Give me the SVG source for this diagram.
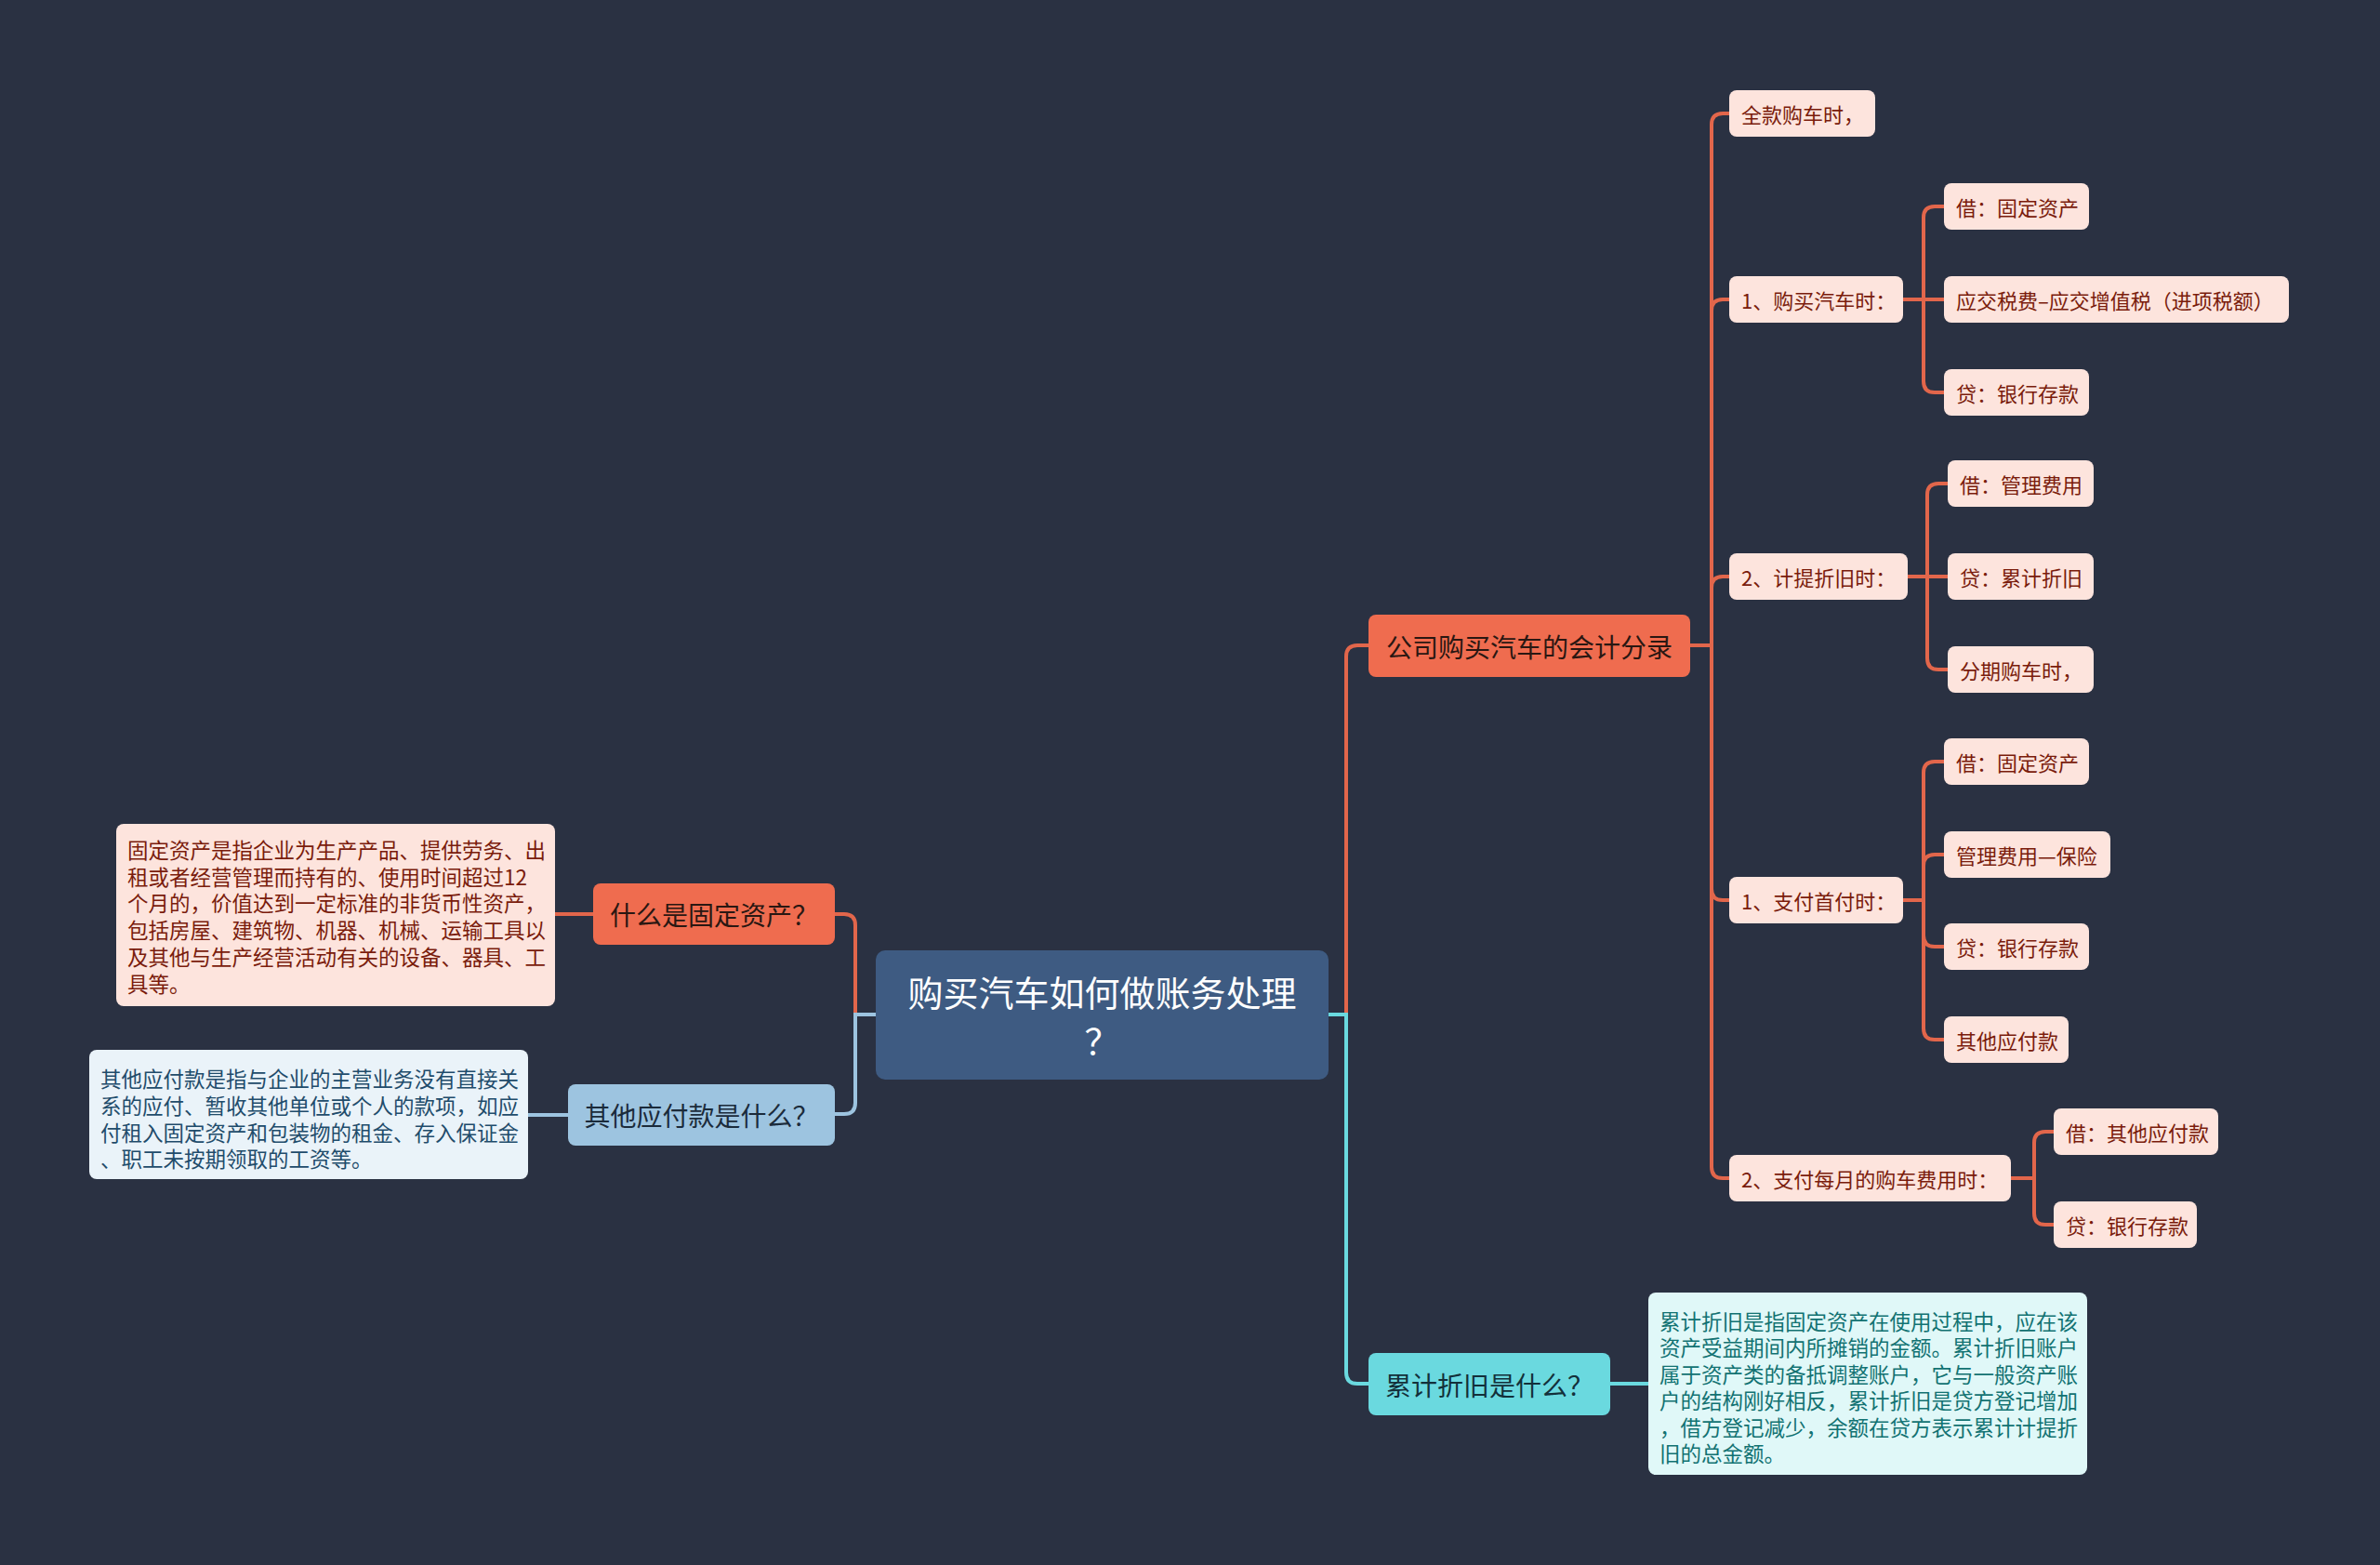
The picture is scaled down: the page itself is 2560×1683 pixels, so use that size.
<svg xmlns="http://www.w3.org/2000/svg" width="2560" height="1683" viewBox="0 0 2560 1683">
<style>
text{font-family:"Noto Sans CJK SC","Noto Sans",sans-serif}
.c-or{fill:none;stroke:#e2664b;stroke-width:4}
.c-cy{fill:none;stroke:#6ad9df;stroke-width:4}
.c-lb{fill:none;stroke:#9dc4e0;stroke-width:4}
.root{fill:#3e5b82}
.root-t{fill:#ffffff;font-size:38px}
.or{fill:#ef6c4f}
.cy{fill:#6ad9df}
.lb{fill:#9dc4e0}
.l2t{fill:#2a1712;font-size:28px}
.l2c{fill:#13303a;font-size:28px}
.l2b{fill:#1b2b3b;font-size:28px}
.pk{fill:#fde4dd}
.pkt{fill:#7a1c0c;font-size:22px}
.dt{font-size:22.5px}
.d4{fill:#eaf3f9}
.d4t{fill:#1f4c6b}
.d2{fill:#e0f8f8}
.d2t{fill:#127272}
</style>
<rect width="2560" height="1683" fill="#2a3142"/>

<g id="connectors">
  <path class="c-or" d="M1429 1091 H1448 V706 Q1448 694 1460 694 H1472"/>
  <path class="c-cy" d="M1429 1091 H1448 V1476 Q1448 1488 1460 1488 H1472"/>
  <path class="c-or" d="M942 1091 H920 V995 Q920 983 908 983 H898"/>
  <path class="c-lb" d="M942 1091 H920 V1186 Q920 1198 908 1198 H898"/>
  <path class="c-or" d="M638 983 H597"/>
  <path class="c-lb" d="M611 1199 H568"/>
  <path class="c-cy" d="M1732 1488 H1773"/>

  <path class="c-or" d="M1818 694 H1841 V134 Q1841 122 1853 122 H1860"/>
  <path class="c-or" d="M1818 694 H1841 V334 Q1841 322 1853 322 H1860"/>
  <path class="c-or" d="M1818 694 H1841 V632 Q1841 620 1853 620 H1860"/>
  <path class="c-or" d="M1818 694 H1841 V956 Q1841 968 1853 968 H1860"/>
  <path class="c-or" d="M1818 694 H1841 V1255 Q1841 1267 1853 1267 H1860"/>

  <path class="c-or" d="M2047 322 H2069 V234 Q2069 222 2081 222 H2091"/>
  <path class="c-or" d="M2047 322 H2091"/>
  <path class="c-or" d="M2047 322 H2069 V410 Q2069 422 2081 422 H2091"/>

  <path class="c-or" d="M2052 620 H2073 V532 Q2073 520 2085 520 H2095"/>
  <path class="c-or" d="M2052 620 H2095"/>
  <path class="c-or" d="M2052 620 H2073 V708 Q2073 720 2085 720 H2095"/>

  <path class="c-or" d="M2047 968 H2069 V831 Q2069 819 2081 819 H2091"/>
  <path class="c-or" d="M2047 968 H2069 V931 Q2069 919 2081 919 H2091"/>
  <path class="c-or" d="M2047 968 H2069 V1006 Q2069 1018 2081 1018 H2091"/>
  <path class="c-or" d="M2047 968 H2069 V1106 Q2069 1118 2081 1118 H2091"/>

  <path class="c-or" d="M2163 1267 H2188 V1229 Q2188 1217 2200 1217 H2209"/>
  <path class="c-or" d="M2163 1267 H2188 V1305 Q2188 1317 2200 1317 H2209"/>
</g>

<g id="root">
  <rect class="root" x="942" y="1022" width="487" height="139" rx="10"/>
  <text class="root-t" x="1185.5" y="1065" text-anchor="middle" dominant-baseline="central">购买汽车如何做账务处理</text>
  <text class="root-t" x="1185.5" y="1117" text-anchor="middle" dominant-baseline="central">？</text>
</g>

<g id="n1">
  <rect class="or" x="1472" y="661" width="346" height="67" rx="8"/>
  <text class="l2t" x="1645" y="694.5" text-anchor="middle" dominant-baseline="central">公司购买汽车的会计分录</text>
</g>
<g id="n2">
  <rect class="cy" x="1472" y="1455" width="260" height="67" rx="8"/>
  <text class="l2c" x="1602" y="1488.5" text-anchor="middle" dominant-baseline="central">累计折旧是什么？</text>
</g>
<g id="n3">
  <rect class="or" x="638" y="950" width="260" height="66" rx="8"/>
  <text class="l2t" x="768" y="983" text-anchor="middle" dominant-baseline="central">什么是固定资产？</text>
</g>
<g id="n4">
  <rect class="lb" x="611" y="1166" width="287" height="66" rx="8"/>
  <text class="l2b" x="754.5" y="1199" text-anchor="middle" dominant-baseline="central">其他应付款是什么？</text>
</g>

<g id="d3">
  <rect class="pk" x="125" y="886" width="472" height="196" rx="8"/>
  <text class="pkt dt" x="137" dominant-baseline="central">
    <tspan x="137" y="913">固定资产是指企业为生产产品、提供劳务、出</tspan>
    <tspan x="137" y="942">租或者经营管理而持有的、使用时间超过12</tspan>
    <tspan x="137" y="970">个月的，价值达到一定标准的非货币性资产，</tspan>
    <tspan x="137" y="999">包括房屋、建筑物、机器、机械、运输工具以</tspan>
    <tspan x="137" y="1028">及其他与生产经营活动有关的设备、器具、工</tspan>
    <tspan x="137" y="1057">具等。</tspan>
  </text>
</g>
<g id="d4">
  <rect class="d4" x="96" y="1129" width="472" height="139" rx="8"/>
  <text class="d4t dt" x="108" dominant-baseline="central">
    <tspan x="108" y="1159">其他应付款是指与企业的主营业务没有直接关</tspan>
    <tspan x="108" y="1188">系的应付、暂收其他单位或个人的款项，如应</tspan>
    <tspan x="108" y="1217">付租入固定资产和包装物的租金、存入保证金</tspan>
    <tspan x="108" y="1245">、职工未按期领取的工资等。</tspan>
  </text>
</g>
<g id="d2">
  <rect class="d2" x="1773" y="1390" width="472" height="196" rx="8"/>
  <text class="d2t dt" x="1785" dominant-baseline="central">
    <tspan x="1785" y="1420">累计折旧是指固定资产在使用过程中，应在该</tspan>
    <tspan x="1785" y="1448">资产受益期间内所摊销的金额。累计折旧账户</tspan>
    <tspan x="1785" y="1477">属于资产类的备抵调整账户，它与一般资产账</tspan>
    <tspan x="1785" y="1505">户的结构刚好相反，累计折旧是贷方登记增加</tspan>
    <tspan x="1785" y="1534">，借方登记减少，余额在贷方表示累计计提折</tspan>
    <tspan x="1785" y="1562">旧的总金额。</tspan>
  </text>
</g>

<g id="s1">
  <rect class="pk" x="1860" y="97" width="157" height="50" rx="8"/>
  <text class="pkt" x="1873" y="122" dominant-baseline="central">全款购车时，</text>
</g>
<g id="s2">
  <rect class="pk" x="1860" y="297" width="187" height="50" rx="8"/>
  <text class="pkt" x="1873" y="322" dominant-baseline="central">1、购买汽车时：</text>
</g>
<g id="s3">
  <rect class="pk" x="1860" y="595" width="192" height="50" rx="8"/>
  <text class="pkt" x="1873" y="620" dominant-baseline="central">2、计提折旧时：</text>
</g>
<g id="s4">
  <rect class="pk" x="1860" y="943" width="187" height="50" rx="8"/>
  <text class="pkt" x="1873" y="968" dominant-baseline="central">1、支付首付时：</text>
</g>
<g id="s5">
  <rect class="pk" x="1860" y="1242" width="303" height="50" rx="8"/>
  <text class="pkt" x="1873" y="1267" dominant-baseline="central">2、支付每月的购车费用时：</text>
</g>

<g id="a1">
  <rect class="pk" x="2091" y="197" width="156" height="50" rx="8"/>
  <text class="pkt" x="2104" y="222" dominant-baseline="central">借：固定资产</text>
</g>
<g id="a2">
  <rect class="pk" x="2091" y="297" width="371" height="50" rx="8"/>
  <text class="pkt" x="2104" y="322" dominant-baseline="central">应交税费–应交增值税（进项税额）</text>
</g>
<g id="a3">
  <rect class="pk" x="2091" y="397" width="156" height="50" rx="8"/>
  <text class="pkt" x="2104" y="422" dominant-baseline="central">贷：银行存款</text>
</g>
<g id="b1">
  <rect class="pk" x="2095" y="495" width="157" height="50" rx="8"/>
  <text class="pkt" x="2108" y="520" dominant-baseline="central">借：管理费用</text>
</g>
<g id="b2">
  <rect class="pk" x="2095" y="595" width="157" height="50" rx="8"/>
  <text class="pkt" x="2108" y="620" dominant-baseline="central">贷：累计折旧</text>
</g>
<g id="b3">
  <rect class="pk" x="2095" y="695" width="157" height="50" rx="8"/>
  <text class="pkt" x="2108" y="720" dominant-baseline="central">分期购车时，</text>
</g>
<g id="c1">
  <rect class="pk" x="2091" y="794" width="156" height="50" rx="8"/>
  <text class="pkt" x="2104" y="819" dominant-baseline="central">借：固定资产</text>
</g>
<g id="c2">
  <rect class="pk" x="2091" y="894" width="179" height="50" rx="8"/>
  <text class="pkt" x="2104" y="919" dominant-baseline="central">管理费用—保险</text>
</g>
<g id="c3">
  <rect class="pk" x="2091" y="993" width="156" height="50" rx="8"/>
  <text class="pkt" x="2104" y="1018" dominant-baseline="central">贷：银行存款</text>
</g>
<g id="c4">
  <rect class="pk" x="2091" y="1093" width="134" height="50" rx="8"/>
  <text class="pkt" x="2104" y="1118" dominant-baseline="central">其他应付款</text>
</g>
<g id="e1">
  <rect class="pk" x="2209" y="1192" width="177" height="50" rx="8"/>
  <text class="pkt" x="2222" y="1217" dominant-baseline="central">借：其他应付款</text>
</g>
<g id="e2">
  <rect class="pk" x="2209" y="1292" width="154" height="50" rx="8"/>
  <text class="pkt" x="2222" y="1317" dominant-baseline="central">贷：银行存款</text>
</g>
</svg>
